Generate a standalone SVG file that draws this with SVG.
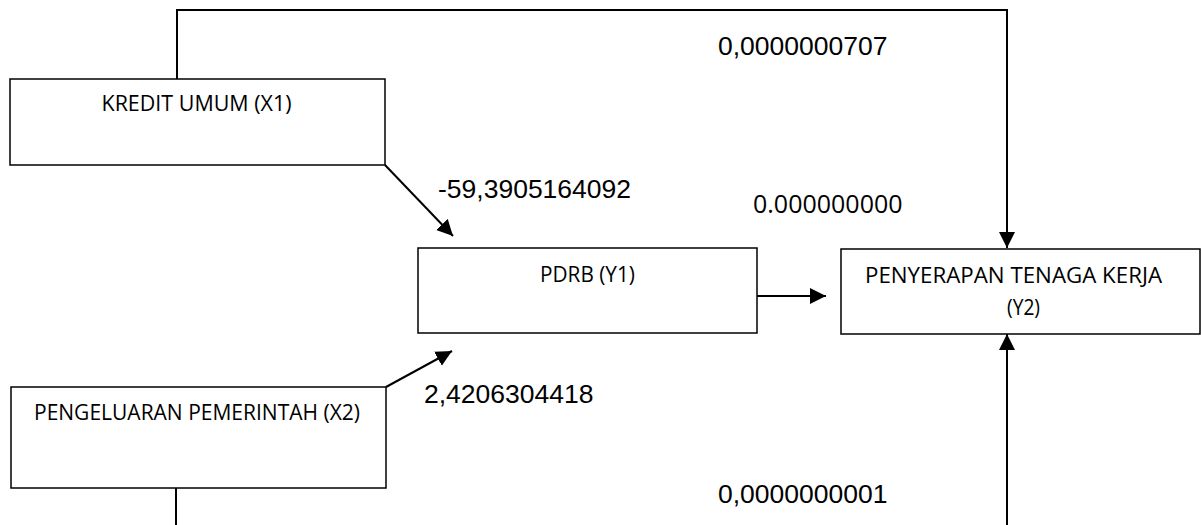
<svg xmlns="http://www.w3.org/2000/svg" width="1201" height="525" viewBox="0 0 1201 525">
<style>
.box{fill:#fff;stroke:#000;stroke-width:1.5}
.bt{font-family:"Open Sans","Noto Sans",sans-serif;font-size:21px;fill:#000;text-anchor:middle}
.num{font-family:"Liberation Sans",Arial,sans-serif;font-size:26.5px;fill:#000}
.numc{font-family:"Open Sans","Noto Sans",sans-serif;font-size:25px;fill:#000}
.ln{fill:none;stroke:#000;stroke-width:2}
</style>
<defs>
<marker id="ah" markerUnits="userSpaceOnUse" markerWidth="17" markerHeight="17" viewBox="0 0 17 17" refX="16" refY="8.5" orient="auto">
<path d="M0,0.5 L16,8.5 L0,16.5 Z" fill="#000"/>
</marker>
</defs>
<g id="connectors">
<polyline class="ln" points="177,79 177,10 1007,10 1007,248" marker-end="url(#ah)"/>
<line class="ln" x1="385" y1="165" x2="453" y2="236" marker-end="url(#ah)"/>
<line class="ln" x1="386" y1="387" x2="452" y2="351" marker-end="url(#ah)"/>
<line class="ln" x1="757" y1="296" x2="826" y2="296" marker-end="url(#ah)"/>
<polyline class="ln" points="176,488 176,525"/>
<line class="ln" x1="1007" y1="525" x2="1007" y2="334" marker-end="url(#ah)"/>
</g>
<g id="x1">
<rect class="box" x="10" y="79" width="375" height="86"/>
<text class="bt" x="196.5" y="111" textLength="190" lengthAdjust="spacingAndGlyphs">KREDIT UMUM (X1)</text>
</g>
<g id="x2">
<rect class="box" x="11" y="387" width="375" height="101"/>
<text class="bt" x="197" y="420" textLength="326" lengthAdjust="spacingAndGlyphs">PENGELUARAN PEMERINTAH (X2)</text>
</g>
<g id="y1">
<rect class="box" x="418" y="248" width="339" height="85"/>
<text class="bt" x="587.5" y="282" textLength="95" lengthAdjust="spacingAndGlyphs">PDRB (Y1)</text>
</g>
<g id="y2">
<rect class="box" x="841" y="249" width="359" height="85"/>
<text class="bt" x="1013.5" y="283" textLength="297" lengthAdjust="spacingAndGlyphs">PENYERAPAN TENAGA KERJA</text>
<text class="bt" x="1023.5" y="315" textLength="33" lengthAdjust="spacingAndGlyphs">(Y2)</text>
</g>
<g id="labels">
<text class="num" x="718" y="55">0,0000000707</text>
<text class="num" x="438" y="198">-59,3905164092</text>
<text class="numc" x="753" y="213">0.000000000</text>
<text class="num" x="424" y="403">2,4206304418</text>
<text class="num" x="718" y="503">0,0000000001</text>
</g>
</svg>
